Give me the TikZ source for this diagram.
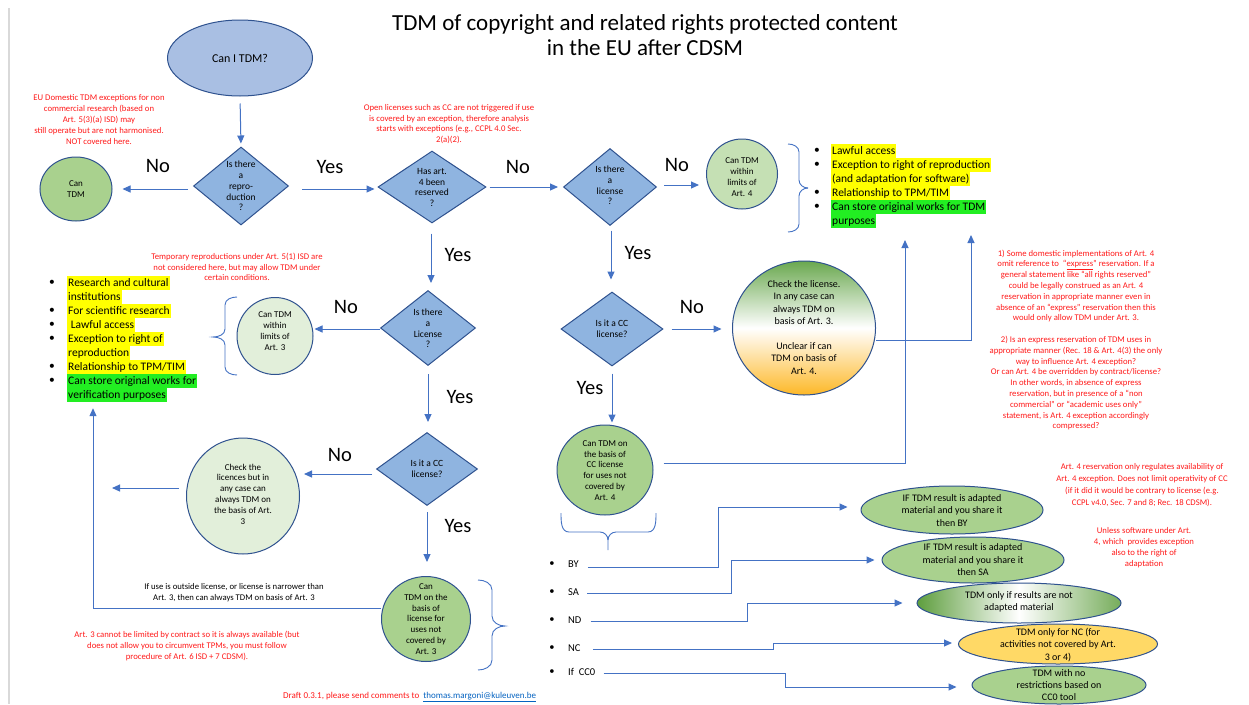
\documentclass[tikz,border=0pt]{standalone}
\usepackage{fontspec}
\setmainfont{Carlito}
\usetikzlibrary{shapes.geometric,arrows.meta}
\definecolor{lblue}{HTML}{4472C4}
\definecolor{bord}{HTML}{2F528F}
\definecolor{ovalfill}{HTML}{A9BFE3}
\definecolor{diafill}{HTML}{8FB4E0}
\definecolor{gA}{HTML}{A9D18E}
\definecolor{gB}{HTML}{C5E0B4}
\definecolor{gC}{HTML}{E2EFDA}
\definecolor{ncfill}{HTML}{FFD966}
\definecolor{topgreen}{HTML}{6AA84F}
\definecolor{botorange}{HTML}{FDB827}
\definecolor{ndgreen}{HTML}{5E9E3E}
\definecolor{notered}{HTML}{FF1A1A}
\definecolor{hlyellow}{HTML}{FFFF00}
\definecolor{hlgreen}{HTML}{22EE22}
\definecolor{linkblue}{HTML}{0563C1}
\definecolor{edgegray}{HTML}{D9D9D9}
\begin{document}
\begin{tikzpicture}[x=1pt,y=-1pt,
  shp/.style={draw=bord, line width=1pt, inner sep=0pt},
  ell/.style={shp, ellipse},
  dia/.style={shp, diamond, fill=diafill},
  txt/.style={align=center, inner sep=0pt, font=\fontsize{9}{10.8}\selectfont},
  dtxt/.style={align=center, inner sep=0pt, font=\fontsize{9.5}{10.8}\selectfont},
  bigtxt/.style={align=center, inner sep=0pt, font=\fontsize{10}{12.3}\selectfont},
  note/.style={align=center, inner sep=0pt, text=notered, font=\fontsize{8.7}{10.8}\selectfont},
  yn/.style={inner sep=0pt, font=\fontsize{20.5}{23}\selectfont},
  arr/.style={draw=lblue, line width=1pt, -{Triangle[length=8pt,width=7pt]}},
  brc/.style={draw=lblue, line width=0.9pt},
  bul/.style={inner sep=0pt, font=\fontsize{11.5}{14}\selectfont},
  hl/.style={anchor=west, inner xsep=1pt, inner ysep=1pt, text height=9pt, text depth=3pt, font=\fontsize{11.5}{14}\selectfont},
  lab/.style={anchor=west, inner sep=0pt, font=\fontsize{10.5}{12}\selectfont},
]
\fill[white] (0,0) rectangle (1249,704);
\useasboundingbox (0,0) rectangle (1249,704);
\draw[edgegray, line width=1.2pt] (9,8) -- (9,704);

% title
\node[font=\fontsize{23}{25.5}\selectfont, align=center, inner sep=0pt] (title) at (645,35) {TDM of copyright and related rights protected content\\in the EU after CDSM};

% shapes
\node[ell, fill=ovalfill, minimum width=145pt, minimum height=76pt, font=\fontsize{12}{14}\selectfont] (start) at (240,58) {Can I TDM?};

\node[dia, minimum width=95pt, minimum height=78pt] (d1) at (241,186) {};
\node[dtxt] (td1) at (241,186) {Is there\\a\\repro-\\duction\\?};

\node[ell, fill=gA, minimum width=72pt, minimum height=64pt] (c0) at (76,189) {};
\node[txt] (tc0) at (76,189) {Can\\TDM};

\node[dia, minimum width=108pt, minimum height=72pt] (d2) at (432,187) {};
\node[dtxt] (td2) at (432,187.5) {Has art.\\4 been\\reserved\\?};

\node[dia, minimum width=93pt, minimum height=77pt] (d3) at (610,187) {};
\node[dtxt] (td3) at (610,185.5) {Is there\\a\\license\\?};

\node[ell, fill=gB, minimum width=71pt, minimum height=70pt] (c4) at (742,174) {};
\node[txt] (tc4) at (742,177) {Can TDM\\within\\limits of\\Art. 4};

\node[dia, minimum width=95pt, minimum height=75pt] (d4) at (428,328) {};
\node[dtxt] (td4) at (428,328.5) {Is there\\a\\License\\?};

\node[ell, fill=gC, minimum width=76pt, minimum height=77pt] (c3) at (275,336) {};
\node[txt] (tc3) at (275,331) {Can TDM\\within\\limits of\\Art. 3};

\node[dia, minimum width=101pt, minimum height=73pt] (d5) at (427,469) {};
\node[dtxt] (td5) at (427,469) {Is it a CC\\license?};

\node[ell, fill=gC, minimum width=113pt, minimum height=116pt] (c5) at (243,496) {};
\node[txt] (tc5) at (243,494) {Check the\\licences but in\\any case can\\always TDM on\\the basis of Art.\\3};

\node[ell, fill=gA, minimum width=89pt, minimum height=85pt] (c6) at (426,619) {};
\node[txt] (tc6) at (426,619) {Can\\TDM on the\\basis of\\license for\\uses not\\covered by\\Art. 3};

\node[dia, minimum width=102pt, minimum height=74pt] (d6) at (612,329) {};
\node[dtxt] (td6) at (612,328.5) {Is it a CC\\license?};

\node[ell, top color=topgreen, bottom color=botorange, middle color=white, minimum width=143pt, minimum height=134pt] (c7) at (804,328) {};
\node[align=center, inner sep=0pt, font=\fontsize{10}{12.4}\selectfont] (tc7) at (804,327.5) {Check the license.\\In any case can\\always TDM on\\basis of Art. 3.\\[12.4pt]Unclear if can\\TDM on basis of\\Art. 4.};

\node[ell, fill=gA, minimum width=96pt, minimum height=90pt] (c8) at (605,470) {};
\node[txt] (tc8) at (605,470.5) {Can TDM on\\the basis of\\CC license\\for uses not\\covered by\\Art. 4};

% bottom ellipses
\node[ell, fill=gA, minimum width=182pt, minimum height=48pt] (e1) at (952,510) {};
\node[bigtxt] (te1) at (952,510.5) {IF TDM result is adapted\\material and you share it\\then BY};
\node[ell, fill=gA, minimum width=182pt, minimum height=46pt] (e2) at (973,560) {};
\node[bigtxt] (te2) at (973,559.7) {IF TDM result is adapted\\material and you share it\\then SA};
\node[ell, left color=ndgreen, right color=ndgreen!85, middle color=white, minimum width=204pt, minimum height=40pt] (e3) at (1019,603) {};
\node[bigtxt] (te3) at (1019,602) {TDM only if results are not\\adapted material};
\node[ell, fill=ncfill, minimum width=199pt, minimum height=40pt] (e4) at (1058,644) {};
\node[bigtxt] (te4) at (1058,645) {TDM only for NC (for\\activities not covered by Art.\\3 or 4)};
\node[ell, fill=gA, minimum width=174pt, minimum height=38pt] (e5) at (1059,685) {};
\node[bigtxt] (te5) at (1059,685) {TDM with no\\restrictions based on\\CC0 tool};

% Yes / No labels
\node[yn] (no1) at (158,166) {No};
\node[yn] (yes1) at (330,167) {Yes};
\node[yn] (no2) at (518,167) {No};
\node[yn] (no3) at (677,165) {No};
\node[yn] (yes2) at (458,255) {Yes};
\node[yn] (no4) at (346,307) {No};
\node[yn] (yes3) at (460,397) {Yes};
\node[yn] (no5) at (340,455) {No};
\node[yn] (yes4) at (458,526) {Yes};
\node[yn] (yes5) at (638,253) {Yes};
\node[yn] (no6) at (692,307) {No};
\node[yn] (yes6) at (590,388) {Yes};

% red notes
\node[note] (n1) at (99,119.5) {EU Domestic TDM exceptions for non\\commercial research (based on\\Art. 5(3)(a) ISD) may\\still operate but are not harmonised.\\NOT covered here.};
\node[note] (n2) at (449,124) {Open licenses such as CC are not triggered if use\\is covered by an exception, therefore analysis\\starts with exceptions (e.g., CCPL 4.0 Sec.\\2(a)(2).};
\node[note] (n3) at (237,267) {Temporary reproductions under Art. 5(1) ISD are\\not considered here, but may allow TDM under\\certain conditions.};
\node[note] (n4) at (1076,340) {1) Some domestic implementations of Art. 4\\
omit reference to \ “\underline{express}” reservation. If a\\
general statement like “all rights reserved”\\
could be legally construed as an Art. 4\\
reservation in appropriate manner even in\\
absence of an “express” reservation then this\\
would only allow TDM under Art. 3.\\[10.8pt]
2) Is an express reservation of TDM uses in\\
appropriate manner (Rec. 18 \& Art. 4(3) the only\\
way to influence Art. 4 exception?\\
Or can Art. 4 be overridden by contract/license?\\
In other words, in absence of express\\
reservation, but in presence of a “non\\
commercial” or “academic uses only”\\
statement, is Art. 4 exception accordingly\\
compressed?};
\node[note] (n5) at (187,646) {Art. 3 cannot be limited by contract so it is always available (but\\does not allow you to circumvent TPMs, you must follow\\procedure of Art. 6 ISD + 7 CDSM).};
\node[align=center, inner sep=0pt, font=\fontsize{8.7}{11}\selectfont] (bt) at (234,592.5) {If use is outside license, or license is narrower than\\Art. 3, then can always TDM on basis of Art. 3};
\node[note, font=\fontsize{8.7}{11.8}\selectfont] (n6) at (1142,485) {Art. 4 reservation only regulates availability of\\Art. 4 exception. Does not limit operativity of CC\\(if it did it would be contrary to license (e.g.\\CCPL v4.0, Sec. 7 and 8; Rec. 18 CDSM).};
\node[note, font=\fontsize{8.7}{11}\selectfont] (n7) at (1144,547.5) {Unless software under Art.\\4, which \ provides exception\\also to the right of\\adaptation};
\node[note, anchor=west, font=\fontsize{9}{11}\selectfont] (foot) at (283,697) {Draft 0.3.1, please send comments to\ \ \textcolor{linkblue}{\underline{thomas.margoni@kuleuven.be}}};

% left list
\node[hl, fill=hlyellow] (l1) at (67,283) {Research and cultural};
\node[hl, fill=hlyellow] (l2) at (67,297) {institutions};
\node[hl, fill=hlyellow] (l3) at (67,311) {For scientific research};
\node[hl, fill=hlyellow] (l4) at (67,325) {\ Lawful access};
\node[hl, fill=hlyellow] (l5) at (67,339) {Exception to right of};
\node[hl, fill=hlyellow] (l6) at (67,353) {reproduction};
\node[hl, fill=hlyellow] (l7) at (67,367) {Relationship to TPM/TIM};
\node[hl, fill=hlgreen] (l8) at (67,381) {Can store original works for};
\node[hl, fill=hlgreen] (l9) at (67,395) {verification purposes};
\node[bul] (lb1) at (52,283) {•};
\node[bul] (lb3) at (52,311) {•};
\node[bul] (lb4) at (52,325) {•};
\node[bul] (lb5) at (52,339) {•};
\node[bul] (lb7) at (52,367) {•};
\node[bul] (lb8) at (52,381) {•};

% right list
\node[hl, fill=hlyellow] (r1) at (831,151) {Lawful access};
\node[hl, fill=hlyellow] (r2) at (831,165) {Exception to right of reproduction};
\node[hl, fill=hlyellow] (r3) at (831,179) {(and adaptation for software)};
\node[hl, fill=hlyellow] (r4) at (831,193) {Relationship to TPM/TIM};
\node[hl, fill=hlgreen] (r5) at (831,207) {Can store original works for TDM};
\node[hl, fill=hlgreen] (r6) at (831,221) {purposes};
\node[bul] (rb1) at (817,151) {•};
\node[bul] (rb2) at (817,165) {•};
\node[bul] (rb4) at (817,193) {•};
\node[bul] (rb5) at (817,207) {•};

% CC element list
\node[bul, font=\fontsize{10.5}{12}\selectfont] (cb1) at (552,564) {•};
\node[bul, font=\fontsize{10.5}{12}\selectfont] (cb2) at (552,592) {•};
\node[bul, font=\fontsize{10.5}{12}\selectfont] (cb3) at (552,620) {•};
\node[bul, font=\fontsize{10.5}{12}\selectfont] (cb4) at (552,648) {•};
\node[bul, font=\fontsize{10.5}{12}\selectfont] (cb5) at (552,672) {•};
\node[lab] (lby) at (568,564) {BY};
\node[lab] (lsa) at (568,592) {SA};
\node[lab] (lnd) at (568,620) {ND};
\node[lab] (lnc) at (568,648) {NC};
\node[lab] (lcc) at (568,672) {If \ CC0};

% braces
\draw[brc] (788,144) to[out=0,in=90] (799,152) -- (799,180) to[out=-90,in=180] (808,188);
\draw[brc] (808,188) to[out=180,in=90] (799,196) -- (799,224) to[out=-90,in=0] (788,232);
\draw[brc] (237,297) to[out=180,in=90] (225,305) -- (225,329) to[out=-90,in=0] (213,337) to[out=0,in=90] (225,345) -- (225,367) to[out=-90,in=180] (237,375);
\draw[brc] (478,580) to[out=0,in=90] (492,590) -- (492,616) to[out=-90,in=180] (505,626) to[out=180,in=90] (492,636) -- (492,660) to[out=-90,in=0] (478,670);
\draw[brc] (561,513) to[out=-90,in=180] (569,532) -- (600,532) to[out=0,in=90] (608,540) -- (608,550);
\draw[brc] (608,540) to[out=90,in=180] (616,532) -- (648,532) to[out=0,in=-90] (656,513);

% helper coordinates
\coordinate (free1) at (112,488);
\coordinate (k0) at (93,0);
\coordinate (tipA) at (905,240);
\coordinate (tipB) at (971,235);
\coordinate (k1) at (718,0);
\coordinate (k2) at (731,0);
\coordinate (k3) at (747,0);
\coordinate (k4) at (773,0);
\coordinate (k5) at (785,0);

% connectors
\draw[arr, shorten <=7pt, shorten >=3pt] (start.south) -- (d1.north);
\draw[arr, shorten <=5pt, shorten >=10pt] ([yshift=-3pt]d1.west) -- ([yshift=-3pt]d1.west -| c0.east);
\draw[arr, shorten <=13pt, shorten >=3pt] ([yshift=-3pt]d1.east) -- ([yshift=-3pt]d1.east -| d2.west);
\draw[arr, shorten <=3pt, shorten >=5pt] (d2.east) -- (d2.east -| d3.west);
\draw[arr, shorten <=7pt, shorten >=7pt] ([yshift=2pt]d3.east) -- ([yshift=2pt]d3.east -| c4.west);
\draw[arr, shorten <=10pt, shorten >=7pt] ([xshift=-1pt]d2.south) -- ([xshift=-1pt]d2.south |- d4.north);
\draw[arr, shorten >=1pt] ([yshift=-1pt]d4.west) -- ([yshift=-1pt]d4.west -| c3.east);
\draw[arr, shorten <=8pt, shorten >=10pt] (d4.south) -- (d4.south |- d5.north);
\draw[arr, shorten <=4pt, shorten >=4pt] ([yshift=-5pt]d5.west) -- ([yshift=-5pt]d5.west -| c5.east);
\draw[arr, shorten <=7pt] (c5.west |- free1) -- (free1);
\draw[arr, shorten <=6pt, shorten >=14pt] (d5.south) -- (d5.south |- c6.north);
\draw[arr, shorten >=6pt] ([yshift=11pt]c6.west) -| (k0 |- l9.south);
\draw[arr, shorten <=4.5pt, shorten >=12pt] ([xshift=1pt]d3.south) -- ([xshift=1pt]d3.south |- d6.north);
\draw[arr, shorten <=8pt, shorten >=10.5pt] (d6.east) -- (d6.east -| c7.west);
\draw[arr, shorten <=7pt, shorten >=2pt] (d6.south) -- (d6.south |- c8.north);
\draw[arr] ([yshift=-12pt]c7.east) -| (tipB);
\draw[arr, shorten <=10pt] ([yshift=7pt]c8.east) -| (tipA);
\draw[arr, shorten <=9pt, shorten >=13pt] ([yshift=-3pt]lby.east) -- ([yshift=-3pt]lby.east -| k1) |- ([yshift=3pt]e1.west);
\draw[arr, shorten <=8pt, shorten >=7pt] ([yshift=-1pt]lsa.east) -- ([yshift=-1pt]lsa.east -| k2) |- (e2.west);
\draw[arr, shorten <=9pt, shorten >=14pt] ([yshift=-1pt]lnd.east) -- ([yshift=-1pt]lnd.east -| k3) |- (e3.west);
\draw[arr, shorten <=12pt, shorten >=6pt] ([yshift=-1pt]lnc.east) -- ([yshift=-1pt]lnc.east -| k4) |- ([yshift=1pt]e4.west);
\draw[arr, shorten <=8pt, shorten >=15pt] ([yshift=-1pt]lcc.east) -- ([yshift=-1pt]lcc.east -| k5) |- ([yshift=-2pt]e5.west);
\end{tikzpicture}
\end{document}
